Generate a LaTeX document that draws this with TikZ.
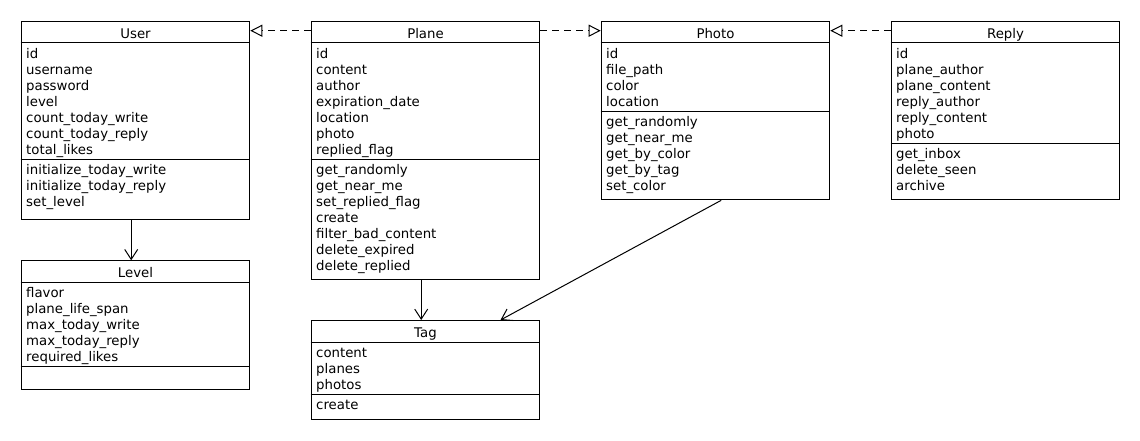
\documentclass[tikz,border=0pt]{standalone}
\usepackage{fontspec}
\setmainfont{DejaVu Sans}
\usetikzlibrary{arrows.meta}

\tikzset{
  classbox/.style={draw, line width=1pt, anchor=north west, inner sep=0pt, minimum width=228.6pt},
  title/.style={anchor=base, inner sep=0pt, font=\fontsize{13.3}{16}\selectfont},
  member/.style={anchor=base west, inner sep=0pt, font=\fontsize{13.3}{16}\selectfont},
  realize/.style={line width=1pt, dash pattern=on 7pt off 5pt, -{Triangle[open, length=12pt, width=12pt]}},
  assoc/.style={line width=1pt, -{Straight Barb[length=10pt, width=13pt]}},
}

\begin{document}
\begin{tikzpicture}[x=1pt, y=-1pt]
  \useasboundingbox[fill=white] (0,0) rectangle (1140,440);

  % class boxes
  \node[classbox, minimum height=198.6pt] (user) at (20.7,20.7) {};
  \node[classbox, minimum height=258.3pt] (plane) at (310.7,20.7) {};
  \node[classbox, minimum height=178.6pt] (photo) at (600.7,20.7) {};
  \node[classbox, minimum height=178.6pt] (reply) at (890.7,20.7) {};
  \node[classbox, minimum height=129pt] (level) at (20.7,260.3) {};
  \node[classbox, minimum height=98.6pt] (tag) at (310.7,320) {};

  % compartments
  \foreach \c in {user, plane, photo, reply, level, tag}
    \draw[line width=1pt] ([yshift=-22pt]\c.north west) -- ([yshift=-22pt]\c.north east);
  \foreach \c/\d in {user/138.3, plane/138.3, photo/90.3, reply/122.3, level/106.3, tag/74.3}
    \draw[line width=1pt] ([yshift=-\d pt]\c.north west) -- ([yshift=-\d pt]\c.north east);

  % titles
  \foreach \c/\t in {user/User, plane/Plane, photo/Photo, reply/Reply, level/Level, tag/Tag}
    \node[title] (\c-title) at ([yshift=-17.6pt]\c.north) {\t};

  % User
  \foreach \m [count=\i] in {id, username, password, level, count\_today\_write, count\_today\_reply, total\_likes}
    \node[member] (user-a\i) at ([shift={(5.3,21.6+16*\i)}]user.north west) {\m};
  \foreach \m [count=\i] in {initialize\_today\_write, initialize\_today\_reply, set\_level}
    \node[member] (user-m\i) at ([shift={(5.3,137.8+16*\i)}]user.north west) {\m};

  % Plane
  \foreach \m [count=\i] in {id, content, author, expiration\_date, location, photo, replied\_flag}
    \node[member] (plane-a\i) at ([shift={(5.3,21.6+16*\i)}]plane.north west) {\m};
  \foreach \m [count=\i] in {get\_randomly, get\_near\_me, set\_replied\_flag, create, filter\_bad\_content, delete\_expired, delete\_replied}
    \node[member] (plane-m\i) at ([shift={(5.3,137.8+16*\i)}]plane.north west) {\m};

  % Photo
  \foreach \m [count=\i] in {id, file\_path, color, location}
    \node[member] (photo-a\i) at ([shift={(5.3,21.6+16*\i)}]photo.north west) {\m};
  \foreach \m [count=\i] in {get\_randomly, get\_near\_me, get\_by\_color, get\_by\_tag, set\_color}
    \node[member] (photo-m\i) at ([shift={(5.3,89.8+16*\i)}]photo.north west) {\m};

  % Reply
  \foreach \m [count=\i] in {id, plane\_author, plane\_content, reply\_author, reply\_content, photo}
    \node[member] (reply-a\i) at ([shift={(5.3,21.6+16*\i)}]reply.north west) {\m};
  \foreach \m [count=\i] in {get\_inbox, delete\_seen, archive}
    \node[member] (reply-m\i) at ([shift={(5.3,121.8+16*\i)}]reply.north west) {\m};

  % Level
  \foreach \m [count=\i] in {flavor, plane\_life\_span, max\_today\_write, max\_today\_reply, required\_likes}
    \node[member] (level-a\i) at ([shift={(5.3,21.6+16*\i)}]level.north west) {\m};

  % Tag
  \foreach \m [count=\i] in {content, planes, photos}
    \node[member] (tag-a\i) at ([shift={(5.3,21.6+16*\i)}]tag.north west) {\m};
  \node[member] (tag-m1) at ([shift={(5.3,89.8)}]tag.north west) {create};

  % relations
  \draw[realize] ([yshift=-10pt]plane.north west) -- ([yshift=-10pt]user.north east);
  \draw[realize] ([yshift=-10pt]plane.north east) -- ([yshift=-10pt]photo.north west);
  \draw[realize] ([yshift=-10pt]reply.north west) -- ([yshift=-10pt]photo.north east);
  \draw[assoc] ([xshift=-4.3pt]user.south) -- ([xshift=-4.3pt]level.north);
  \draw[assoc] ([xshift=-4.3pt]plane.south) -- ([xshift=-4.3pt]tag.north);
  \draw[assoc] ([xshift=5.7pt]photo.south) -- ([xshift=75pt]tag.north);

\end{tikzpicture}
\end{document}
